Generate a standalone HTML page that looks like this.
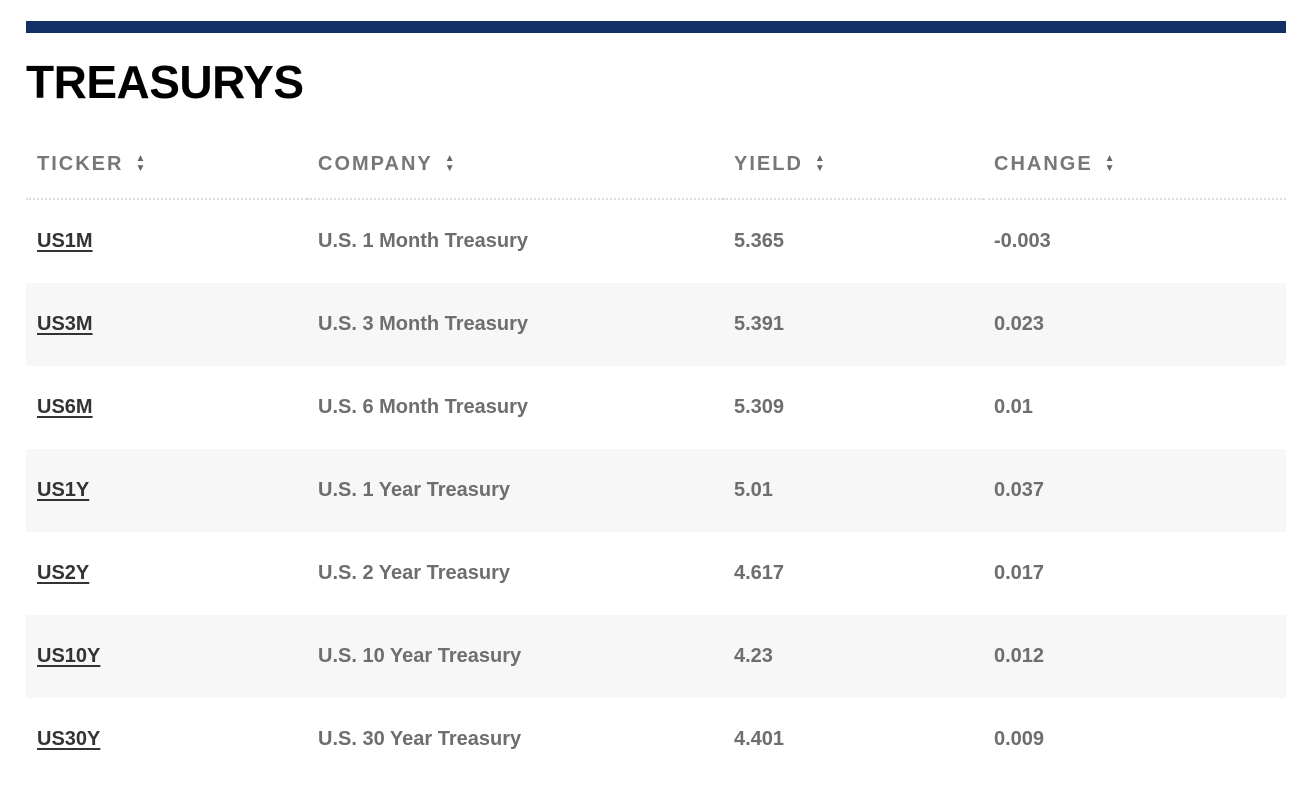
<!DOCTYPE html>
<html><head><meta charset="utf-8"><style>
body{margin:0;background:#fff;font-family:"Liberation Sans",sans-serif;width:1312px;height:808px;overflow:hidden;position:relative}
.bar{position:absolute;left:26px;top:21px;width:1260px;height:12px;background:#142f66}
h1{position:absolute;left:26px;top:52px;margin:0;font-size:46px;font-weight:bold;color:#000;letter-spacing:-0.5px;line-height:60px}
table{position:absolute;left:26px;top:130px;width:1260px;border-collapse:collapse}
th{height:68px;text-align:left;font-size:20px;font-weight:bold;color:#777;letter-spacing:2px;padding:0 0 0 11px;border-bottom:2px dotted #ddd;vertical-align:middle}
th .s{display:inline-block;font-size:10px;line-height:10px;vertical-align:middle;margin-left:12px;letter-spacing:0;color:#666}
td{height:83px;padding:0 0 0 11px;font-size:20px;font-weight:bold;color:#6e6e6e;vertical-align:middle}
tr:nth-child(even) td{background:#f7f7f7}
td a{color:#333;text-decoration:underline;text-underline-offset:3px}
</style></head><body>
<div class="bar"></div>
<h1>TREASURYS</h1>
<table>
<thead><tr>
<th style="width:270px">TICKER<span class="s">▲<br>▼</span></th>
<th style="width:405px">COMPANY<span class="s">▲<br>▼</span></th>
<th style="width:249px">YIELD<span class="s">▲<br>▼</span></th>
<th>CHANGE<span class="s">▲<br>▼</span></th>
</tr></thead>
<tbody>
<tr><td><a>US1M</a></td><td>U.S. 1 Month Treasury</td><td>5.365</td><td>-0.003</td></tr>
<tr><td><a>US3M</a></td><td>U.S. 3 Month Treasury</td><td>5.391</td><td>0.023</td></tr>
<tr><td><a>US6M</a></td><td>U.S. 6 Month Treasury</td><td>5.309</td><td>0.01</td></tr>
<tr><td><a>US1Y</a></td><td>U.S. 1 Year Treasury</td><td>5.01</td><td>0.037</td></tr>
<tr><td><a>US2Y</a></td><td>U.S. 2 Year Treasury</td><td>4.617</td><td>0.017</td></tr>
<tr><td><a>US10Y</a></td><td>U.S. 10 Year Treasury</td><td>4.23</td><td>0.012</td></tr>
<tr><td><a>US30Y</a></td><td>U.S. 30 Year Treasury</td><td>4.401</td><td>0.009</td></tr>
</tbody></table>
</body></html>
